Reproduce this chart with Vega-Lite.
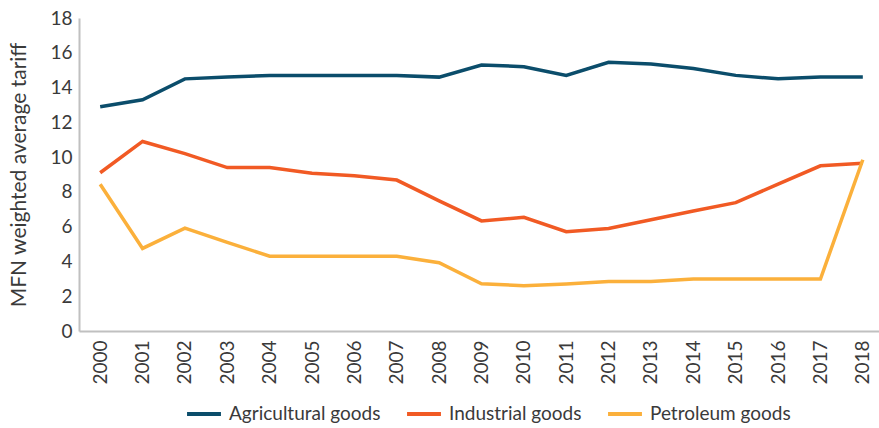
{
  "$schema": "https://vega.github.io/schema/vega-lite/v6.json",
  "width": 805,
  "height": 313,
  "autosize": "none",
  "padding": {"left": 79, "top": 18, "right": 0, "bottom": 97},
  "background": "white",
  "config": {
    "view": {"stroke": null},
    "font": "Lato",
    "axis": {"labelFont": "Lato", "titleFont": "Lato", "labelColor": "#3a3a3a", "titleColor": "#3a3a3a", "grid": false, "ticks": false, "domainColor": "#c0c0c0", "domainWidth": 2}
  },
  "data": {
    "values": [
      {"year": "2000", "series": "Agricultural goods", "value": 12.9},
      {"year": "2001", "series": "Agricultural goods", "value": 13.3},
      {"year": "2002", "series": "Agricultural goods", "value": 14.5},
      {"year": "2003", "series": "Agricultural goods", "value": 14.6},
      {"year": "2004", "series": "Agricultural goods", "value": 14.7},
      {"year": "2005", "series": "Agricultural goods", "value": 14.7},
      {"year": "2006", "series": "Agricultural goods", "value": 14.7},
      {"year": "2007", "series": "Agricultural goods", "value": 14.7},
      {"year": "2008", "series": "Agricultural goods", "value": 14.6},
      {"year": "2009", "series": "Agricultural goods", "value": 15.3},
      {"year": "2010", "series": "Agricultural goods", "value": 15.2},
      {"year": "2011", "series": "Agricultural goods", "value": 14.7},
      {"year": "2012", "series": "Agricultural goods", "value": 15.45},
      {"year": "2013", "series": "Agricultural goods", "value": 15.35},
      {"year": "2014", "series": "Agricultural goods", "value": 15.1},
      {"year": "2015", "series": "Agricultural goods", "value": 14.7},
      {"year": "2016", "series": "Agricultural goods", "value": 14.5},
      {"year": "2017", "series": "Agricultural goods", "value": 14.6},
      {"year": "2018", "series": "Agricultural goods", "value": 14.6},
      {"year": "2000", "series": "Industrial goods", "value": 9.1},
      {"year": "2001", "series": "Industrial goods", "value": 10.9},
      {"year": "2002", "series": "Industrial goods", "value": 10.2},
      {"year": "2003", "series": "Industrial goods", "value": 9.4},
      {"year": "2004", "series": "Industrial goods", "value": 9.4},
      {"year": "2005", "series": "Industrial goods", "value": 9.07},
      {"year": "2006", "series": "Industrial goods", "value": 8.93},
      {"year": "2007", "series": "Industrial goods", "value": 8.68},
      {"year": "2008", "series": "Industrial goods", "value": 7.48},
      {"year": "2009", "series": "Industrial goods", "value": 6.33},
      {"year": "2010", "series": "Industrial goods", "value": 6.54},
      {"year": "2011", "series": "Industrial goods", "value": 5.71},
      {"year": "2012", "series": "Industrial goods", "value": 5.9},
      {"year": "2013", "series": "Industrial goods", "value": 6.4},
      {"year": "2014", "series": "Industrial goods", "value": 6.9},
      {"year": "2015", "series": "Industrial goods", "value": 7.38},
      {"year": "2016", "series": "Industrial goods", "value": 8.45},
      {"year": "2017", "series": "Industrial goods", "value": 9.5},
      {"year": "2018", "series": "Industrial goods", "value": 9.64},
      {"year": "2000", "series": "Petroleum goods", "value": 8.44},
      {"year": "2001", "series": "Petroleum goods", "value": 4.75},
      {"year": "2002", "series": "Petroleum goods", "value": 5.92},
      {"year": "2003", "series": "Petroleum goods", "value": 5.1},
      {"year": "2004", "series": "Petroleum goods", "value": 4.3},
      {"year": "2005", "series": "Petroleum goods", "value": 4.3},
      {"year": "2006", "series": "Petroleum goods", "value": 4.3},
      {"year": "2007", "series": "Petroleum goods", "value": 4.3},
      {"year": "2008", "series": "Petroleum goods", "value": 3.93},
      {"year": "2009", "series": "Petroleum goods", "value": 2.72},
      {"year": "2010", "series": "Petroleum goods", "value": 2.6},
      {"year": "2011", "series": "Petroleum goods", "value": 2.7},
      {"year": "2012", "series": "Petroleum goods", "value": 2.84},
      {"year": "2013", "series": "Petroleum goods", "value": 2.84},
      {"year": "2014", "series": "Petroleum goods", "value": 2.99},
      {"year": "2015", "series": "Petroleum goods", "value": 2.99},
      {"year": "2016", "series": "Petroleum goods", "value": 2.99},
      {"year": "2017", "series": "Petroleum goods", "value": 2.99},
      {"year": "2018", "series": "Petroleum goods", "value": 9.85}
    ]
  },
  "mark": {"type": "line", "strokeWidth": 3.5, "strokeJoin": "miter"},
  "encoding": {
    "x": {
      "field": "year", "type": "ordinal",
      "scale": {"type": "point", "padding": 0.5},
      "axis": {"title": null, "labelAngle": 270, "labelFontSize": 19, "labelPadding": 9, "labelAlign": "right", "labelBaseline": "middle"}
    },
    "y": {
      "field": "value", "type": "quantitative",
      "scale": {"domain": [0, 18], "nice": false},
      "axis": {"title": "MFN weighted average tariff", "values": [0,2,4,6,8,10,12,14,16,18], "labelFontSize": 19, "labelPadding": 7, "titleFontSize": 21, "titleFontWeight": "normal", "titlePadding": 20}
    },
    "color": {
      "field": "series", "type": "nominal",
      "scale": {"domain": ["Agricultural goods", "Industrial goods", "Petroleum goods"], "range": ["#0b4d6b", "#f15a24", "#fbb03b"]},
      "legend": {"title": null, "orient": "none", "legendX": 106, "legendY": 377, "direction": "horizontal", "symbolType": "stroke", "symbolStrokeWidth": 4, "symbolSize": 1150, "labelFontSize": 19, "labelColor": "#3a3a3a", "columnPadding": 18, "labelOffset": 6}
    }
  }
}
